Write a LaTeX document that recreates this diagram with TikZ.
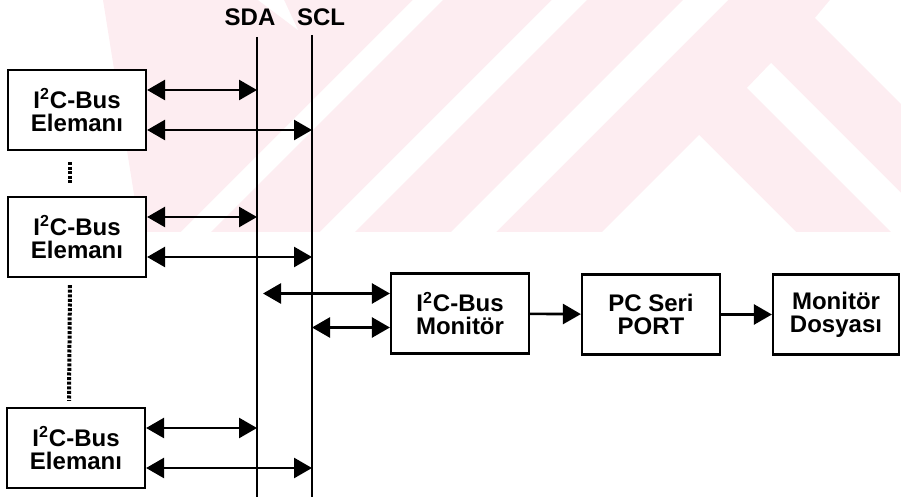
\documentclass[tikz,border=0pt]{standalone}
\usepackage{fontspec}
\setmainfont{Liberation Sans}
\usepackage{tikz}
\usetikzlibrary{arrows.meta}
\definecolor{wmpink}{RGB}{253,237,241}

\begin{document}
\begin{tikzpicture}[
  x=0.5pt, y=-0.5pt,
  font=\fontsize{12}{11.5}\selectfont\bfseries,
  unit/.style={draw=black, line width=1.1pt, fill=white, align=center, minimum width=69pt, minimum height=40pt, inner sep=2pt},
  bus/.style={line width=1pt, draw=black},
  link/.style={{Triangle[length=9pt,width=10pt]}-{Triangle[length=9pt,width=10pt]}, line width=1.3pt},
  flow/.style={-{Triangle[length=9pt,width=10pt]}, line width=1.3pt},
  skipline/.style={line width=2pt, dash pattern=on 1.5pt off 0.8pt}
]
\useasboundingbox (0,0) rectangle (901,497);

% faint background mark
\begin{scope}
\clip (0,0) rectangle (901,232);
\fill[wmpink] (103,0) -- (901,0) -- (901,232) -- (140,232) -- cycle;
\fill[white] (258,0) -- (284,0) -- (298,30) -- cycle;
\fill[white] (413,0) -- (443,0) -- (211,232) -- (181,232) -- cycle;
\fill[white] (552,0) -- (587,0) -- (355,232) -- (320,232) -- cycle;
\fill[white] (683,0) -- (728,0) -- (496,232) -- (451,232) -- cycle;
\fill[white] (602,232) -- (699,135) -- (796,232) -- cycle;
\fill[white] (771,63) -- (901,193) -- (901,232) -- (891,232) -- (747,88) -- cycle;
\fill[white] (830,0) -- (901,0) -- (901,104) -- (815,18) -- cycle;
\end{scope}

% bus lines
\coordinate (sdatop) at (257,37);
\coordinate (sdabot) at (257,497);
\coordinate (scltop) at (312,35);
\coordinate (sclbot) at (312,497);
\draw[bus] (sdatop) -- (sdabot);
\draw[bus] (scltop) -- (sclbot);
\node (sdalbl) at (250,17) {SDA};
\node (scllbl) at (321,17) {SCL};

% bus elements
\node[unit] (elem1) at (77,110) {I\textsuperscript{2}C-Bus\\Elemanı};
\node[unit] (elem2) at (77,237) {I\textsuperscript{2}C-Bus\\Elemanı};
\node[unit] (elem3) at (76,448) {I\textsuperscript{2}C-Bus\\Elemanı};

\draw[skipline] ([xshift=-3.5pt,yshift=-5.5pt]elem1.south) -- ([xshift=-3.5pt,yshift=6.5pt]elem2.north);
\draw[skipline] ([xshift=-3.5pt,yshift=-3.5pt]elem2.south) -- ([xshift=-3.5pt,yshift=3pt]elem3.north);

\draw[link] ([yshift=10pt]elem1.east) -- ([yshift=10pt]elem1.east -| sdatop);
\draw[link] ([yshift=-10pt]elem1.east) -- ([yshift=-10pt]elem1.east -| scltop);
\draw[link] ([yshift=10pt]elem2.east) -- ([yshift=10pt]elem2.east -| sdatop);
\draw[link] ([yshift=-10pt]elem2.east) -- ([yshift=-10pt]elem2.east -| scltop);
\draw[link] ([yshift=10pt]elem3.east) -- ([yshift=10pt]elem3.east -| sdatop);
\draw[link] ([yshift=-10pt]elem3.east) -- ([yshift=-10pt]elem3.east -| scltop);

% monitor chain
\node[unit] (mon) at (460,313.5) {I\textsuperscript{2}C-Bus\\Monitör};
\node[unit] (pcport) at (651,314.5) {PC Seri\\PORT};
\node[unit, minimum width=63pt] (logfile) at (836,314.5) {Monitör\\Dosyası};

\draw[link] ([yshift=10pt]mon.west) -- ([yshift=10pt,xshift=3pt]mon.west -| sdatop);
\draw[link] ([yshift=-7pt]mon.west) -- ([yshift=-7pt]mon.west -| scltop);
\draw[flow] (mon) -- (pcport);
\draw[flow] (pcport) -- (logfile);

\end{tikzpicture}
\end{document}
